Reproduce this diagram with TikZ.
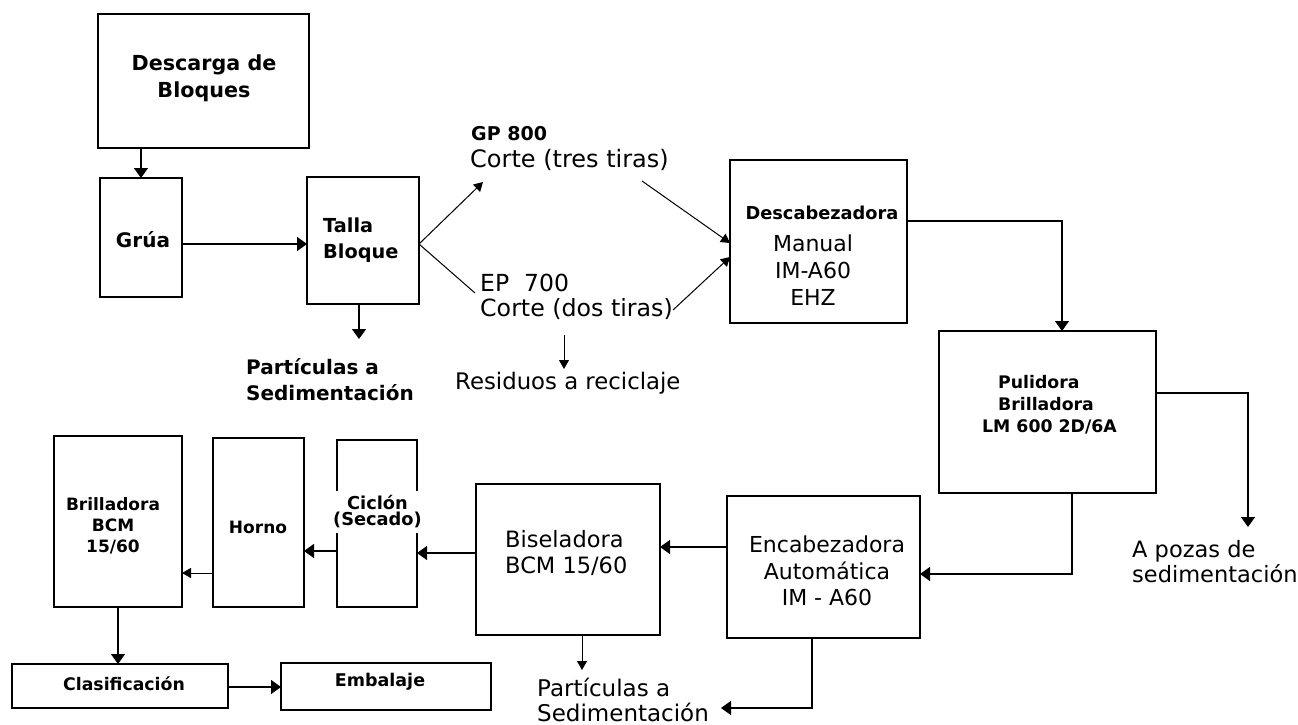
\documentclass[tikz,border=0pt]{standalone}
\usepackage{fontspec}
\setmainfont{DejaVu Sans}
\usetikzlibrary{arrows.meta,calc}
\newcommand{\fsz}[2]{\fontsize{#1}{#2}\selectfont}
\begin{document}
\begin{tikzpicture}[x=1pt,y=-1pt,
  box/.style={draw, line width=1.3pt, inner sep=0pt, outer sep=0pt},
  flow/.style={line width=1.3pt, -{Triangle[width=14pt,length=10pt]}},
  thinflow/.style={line width=1pt, -{Triangle[width=10pt,length=9pt]}},
  thinline/.style={line width=1pt},
  lab/.style={inner sep=0pt, align=center},
  labl/.style={inner sep=0pt, align=left, anchor=west}]
\useasboundingbox (0,0) rectangle (1298,725);

% process boxes
\node[box, minimum width=211pt, minimum height=134pt] (desc)   at (203.5,81) {};
\node[box, minimum width=82pt,  minimum height=119pt] (grua)   at (141,237.5) {};
\node[box, minimum width=112pt, minimum height=127pt] (talla)  at (363,240.5) {};
\node[box, minimum width=177pt, minimum height=163pt] (descab) at (818.5,241.5) {};
\node[box, minimum width=217pt, minimum height=162pt] (pulid)  at (1047.5,412) {};
\node[box, minimum width=193pt, minimum height=142pt] (encab)  at (823.5,567) {};
\node[box, minimum width=184pt, minimum height=151pt] (bisel)  at (568,559.5) {};
\node[box, minimum width=80pt,  minimum height=167pt] (ciclon) at (377,523.5) {};
\node[box, minimum width=91pt,  minimum height=169pt] (horno)  at (258.5,522.5) {};
\node[box, minimum width=128pt, minimum height=171pt] (brill)  at (118,521.5) {};
\node[box, minimum width=216pt, minimum height=44pt]  (clasif) at (120,686) {};
\node[box, minimum width=210pt, minimum height=47pt]  (embal)  at (386,686.5) {};

% labels
\node[lab, font=\bfseries\fsz{20.7}{27}] (tdesc) at (204,78) {Descarga de\\Bloques};
\node[lab, font=\bfseries\fsz{20}{26}] (tgrua) at (143,240) {Grúa};
\node[labl, font=\bfseries\fsz{19.3}{26}] (ttalla) at (323,240) {Talla\\Bloque};
\node[labl, font=\bfseries\fsz{20}{26}] (tpart1) at (246,380) {Partículas a\\Sedimentación};
\node[labl, font=\bfseries\fsz{19}{24}] (tgp) at (471,134) {GP 800};
\node[labl, font=\fsz{24}{26}] (tcorte1) at (470,160) {Corte (tres tiras)};
\node[labl, font=\fsz{23.5}{26}] (tep) at (480,283) {EP\ \ 700};
\node[labl, font=\fsz{23.7}{26}] (tcorte2) at (480,309) {Corte (dos tiras)};
\node[labl, font=\fsz{22.8}{26}] (tres) at (455,383) {Residuos a reciclaje};
\node[lab, font=\bfseries\fsz{17.8}{20}] (tdescab) at (822,213) {Descabezadora};
\node[lab, font=\fsz{22}{27}] (tman) at (813,270) {Manual\\IM-A60\\EHZ};
\node[labl, font=\bfseries\fsz{17.3}{22}] (tpul) at (982,405) {\hspace*{16pt}Pulidora\\\hspace*{16pt}Brilladora\\LM 600 2D/6A};
\node[labl, font=\fsz{22.5}{25}] (tpozas) at (1132,562) {A pozas de\\sedimentación};
\node[lab, font=\fsz{22}{26.5}] (tencab) at (827,571) {Encabezadora\\Automática\\IM - A60};
\node[labl, font=\fsz{22.5}{26}] (tbisel) at (505,553) {Biseladora\\BCM 15/60};
\node[labl, font=\fsz{23}{25}] (tpart2) at (537,700) {Partículas a\\Sedimentación};
\node[lab, font=\bfseries\fsz{17.8}{16}, fill=white, inner ysep=5pt] (tciclon) at (377.5,512) {Ciclón\\(Secado)};
\node[lab, font=\bfseries\fsz{17}{21}] (thorno) at (258,527) {Horno};
\node[lab, font=\bfseries\fsz{17}{21}] (tbrill) at (113,526) {Brilladora\\BCM\\15/60};
\node[lab, font=\bfseries\fsz{17.3}{21}] (tclasif) at (124,684) {Clasificación};
\node[lab, font=\bfseries\fsz{17.5}{21}] (tembal) at (380,682) {Embalaje};

% connection points
\coordinate (g1) at ([yshift=-6.5pt]grua.east);
\coordinate (t1) at ([xshift=-4pt]talla.south);
\coordinate (p1end) at (359,339);
\coordinate (t2) at ([yshift=-3.5pt]talla.east);
\coordinate (gpin) at (483,182);
\coordinate (epin) at (475,293);
\coordinate (gpout) at (642,181);
\coordinate (epout) at (673,310);
\coordinate (d1) at ([yshift=-1.5pt]descab.west);
\coordinate (d2) at ([yshift=-15.5pt]descab.west);
\coordinate (r1) at (564,335);
\coordinate (r2) at (564,369);
\coordinate (d3) at ([yshift=20.5pt]descab.east);
\coordinate (pin) at ([xshift=14.5pt]pulid.north);
\coordinate (p2) at ([yshift=19pt]pulid.east);
\coordinate (pozas) at (1248,527);
\coordinate (p3) at ([xshift=24.5pt]pulid.south);
\coordinate (ein) at ([yshift=-7pt]encab.east);
\coordinate (e1) at ([yshift=20pt]encab.west);
\coordinate (b1) at ([xshift=14pt]bisel.south);
\coordinate (b1end) at (582,670);
\coordinate (e2) at ([xshift=-11.5pt]encab.south);
\coordinate (e2end) at (721,708);
\coordinate (b2) at ([yshift=6.5pt]bisel.west);
\coordinate (c1) at ([yshift=-27.5pt]ciclon.west);
\coordinate (h1) at ([yshift=-50.5pt]horno.west);
\coordinate (k1) at ([yshift=-1pt]clasif.east);

% connectors
\draw[flow] (desc.south -| grua.north) -- (grua.north);
\draw[flow] (g1) -- (g1 -| talla.west);
\draw[flow] (t1) -- (p1end);
\draw[thinflow] (t2) -- (gpin);
\draw[thinline] (t2) -- (epin);
\draw[thinflow] (gpout) -- (d1);
\draw[thinflow] (epout) -- (d2);
\draw[thinflow] (r1) -- (r2);
\draw[flow] (d3) -| (pin);
\draw[flow] (p2) -| (pozas);
\draw[flow] (p3) |- (ein);
\draw[flow] (e1) -- (e1 -| bisel.east);
\draw[thinflow] (b1) -- (b1end);
\draw[flow] (e2) |- (e2end);
\draw[flow] (b2) -- (b2 -| ciclon.east);
\draw[flow] (c1) -- (c1 -| horno.east);
\draw[thinflow] (h1) -- (h1 -| brill.east);
\draw[flow] (brill.south) -- (brill.south |- clasif.north);
\draw[flow] (k1) -- (k1 -| embal.west);
\end{tikzpicture}
\end{document}
